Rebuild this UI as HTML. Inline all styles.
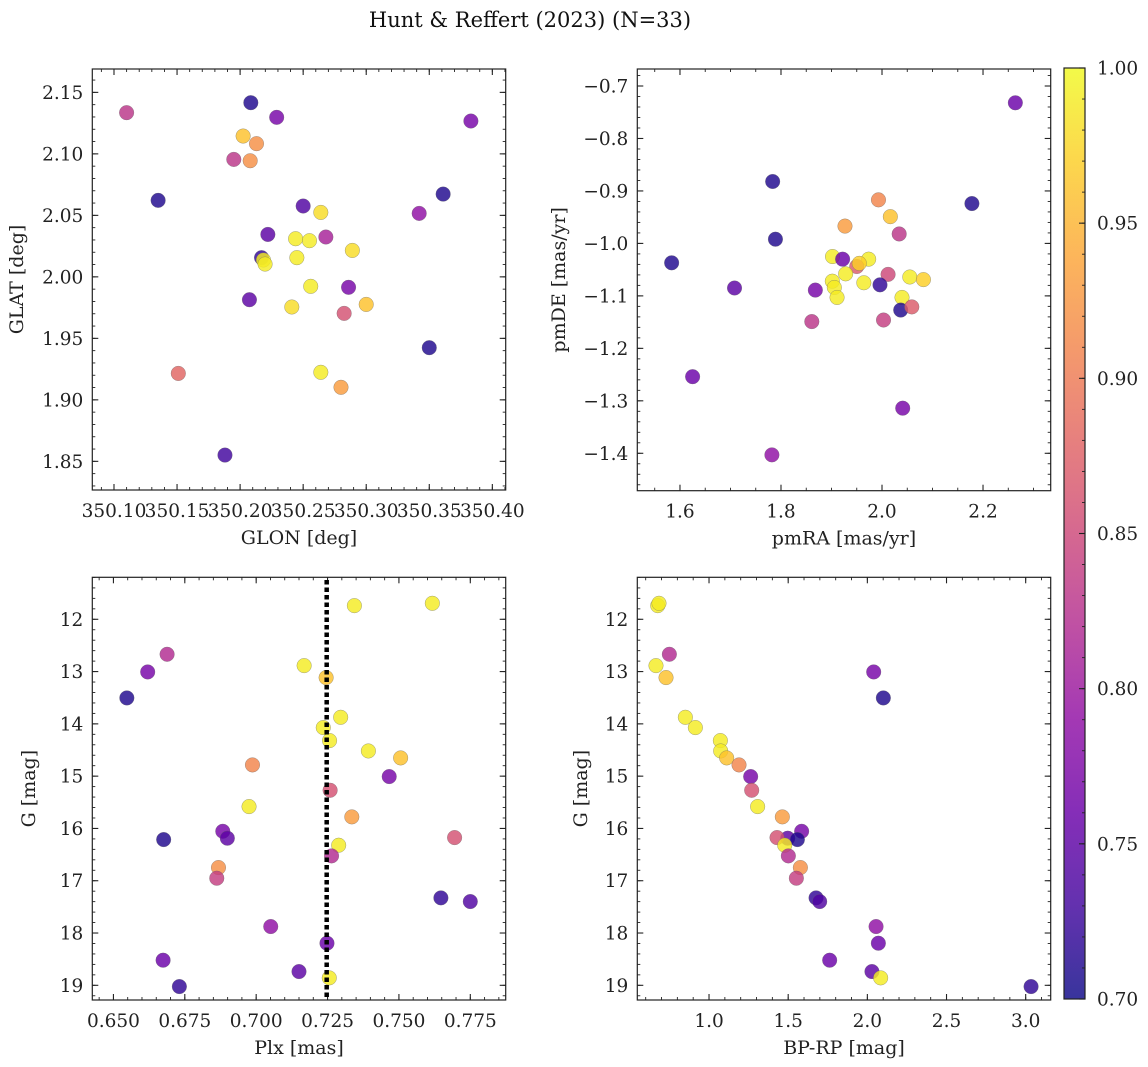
<!DOCTYPE html>
<html><head><meta charset="utf-8">
<style>
html,body{margin:0;padding:0;background:#fff;}
svg{display:block;font-family:"DejaVu Serif","Liberation Serif",serif;}
</style></head>
<body>
<svg id="fig" width="1148" height="1067" viewBox="0 0 1148 1067" xmlns="http://www.w3.org/2000/svg">
<text x="530" y="27" text-anchor="middle" font-size="21" fill="#111">Hunt &amp; Reffert (2023) (N=33)</text>
</svg>
<script>
// ---- Panel 1: positions ----
const glon=[350.110,350.2085,350.229,350.2024,350.213,350.195,350.208,350.135,350.250,350.264,350.222,350.244,350.255,350.268,350.289,350.217,350.2185,350.2198,350.245,350.256,350.286,350.2074,350.241,350.300,350.2825,350.342,350.361,350.383,350.350,350.151,350.264,350.280,350.188];
const glat=[2.1335,2.1416,2.1297,2.1145,2.1083,2.0955,2.0944,2.0622,2.0576,2.0524,2.0345,2.031,2.0294,2.0324,2.0215,2.0156,2.0137,2.0104,2.0156,1.9923,1.9915,1.9814,1.9755,1.9776,1.9703,2.0516,2.0673,2.1267,1.9424,1.9215,1.9224,1.9102,1.8551];
const probPos=[0.83,0.71,0.77,0.96,0.92,0.83,0.92,0.71,0.74,0.98,0.75,0.99,0.99,0.81,0.98,0.72,0.99,0.99,0.99,0.99,0.77,0.75,0.98,0.96,0.86,0.79,0.71,0.77,0.71,0.88,0.99,0.93,0.73];
// ---- Panel 2: proper motions ----
const pmra=[2.264,1.7835,1.789,1.5835,1.708,1.625,1.782,1.868,1.861,1.993,2.0165,1.9267,2.034,2.178,1.902,1.922,1.9736,1.950,1.955,1.928,2.012,1.9016,1.9056,1.911,1.964,1.996,2.055,2.082,2.0396,2.037,2.059,2.003,2.041];
const pmde=[-0.732,-0.882,-0.992,-1.037,-1.085,-1.254,-1.403,-1.089,-1.149,-0.917,-0.949,-0.967,-0.982,-0.924,-1.025,-1.030,-1.030,-1.044,-1.038,-1.058,-1.059,-1.072,-1.084,-1.103,-1.075,-1.079,-1.064,-1.069,-1.103,-1.127,-1.121,-1.146,-1.314];
const probPm=[0.76,0.71,0.71,0.71,0.75,0.76,0.79,0.77,0.83,0.91,0.96,0.93,0.83,0.71,0.99,0.76,0.99,0.87,0.97,0.99,0.85,0.99,0.99,0.99,0.99,0.72,0.99,0.97,0.99,0.71,0.87,0.84,0.77];
// ---- Panels 3/4: photometry (same stars) ----
const plx=[0.7344,0.7617,0.6688,0.6620,0.6547,0.7168,0.7245,0.7296,0.7235,0.7257,0.7393,0.7506,0.6987,0.7466,0.7259,0.6975,0.7335,0.6883,0.6899,0.6676,0.7695,0.7289,0.7264,0.6868,0.6862,0.7647,0.7750,0.7051,0.7248,0.6674,0.7150,0.7256,0.6731];
const gmag=[11.739,11.694,12.669,13.007,13.504,12.886,13.115,13.874,14.071,14.320,14.518,14.651,14.785,15.008,15.270,15.582,15.779,16.054,16.187,16.213,16.175,16.321,16.525,16.748,16.952,17.328,17.398,17.876,18.195,18.520,18.737,18.858,19.024];
const bprp=[0.676,0.684,0.7495,2.040,2.101,0.665,0.7284,0.8505,0.9137,1.0716,1.0737,1.1116,1.1895,1.263,1.2695,1.307,1.463,1.585,1.497,1.558,1.4295,1.478,1.501,1.577,1.5516,1.676,1.699,2.055,2.0695,1.762,2.029,2.084,3.034];
const probPh=[0.99,0.99,0.82,0.77,0.71,0.99,0.96,0.99,0.99,0.99,0.99,0.96,0.91,0.77,0.86,0.99,0.93,0.77,0.75,0.71,0.86,0.99,0.82,0.92,0.84,0.72,0.74,0.79,0.76,0.76,0.75,0.99,0.72];
const plxMean=[0.7247];
// ---- tick labels ----
const ticksGlon=[350.10,350.15,350.20,350.25,350.30,350.35,350.40];
const labelsGlon=["350.10","350.15","350.20","350.25","350.30","350.35","350.40"];
const ticksGlat=[1.85,1.90,1.95,2.00,2.05,2.10,2.15];
const labelsGlat=["1.85","1.90","1.95","2.00","2.05","2.10","2.15"];
const ticksPmra=[1.6,1.8,2.0,2.2];
const labelsPmra=["1.6","1.8","2.0","2.2"];
const ticksPmde=[-1.4,-1.3,-1.2,-1.1,-1.0,-0.9,-0.8,-0.7];
const labelsPmde=["\u22121.4","\u22121.3","\u22121.2","\u22121.1","\u22121.0","\u22120.9","\u22120.8","\u22120.7"];
const ticksPlx=[0.650,0.675,0.700,0.725,0.750,0.775];
const labelsPlx=["0.650","0.675","0.700","0.725","0.750","0.775"];
const ticksG=[12,13,14,15,16,17,18,19];
const labelsG=["12","13","14","15","16","17","18","19"];
const ticksCol=[1.0,1.5,2.0,2.5,3.0];
const labelsCol=["1.0","1.5","2.0","2.5","3.0"];
const ticksCbar=[0.70,0.75,0.80,0.85,0.90,0.95,1.00];
const labelsCbar=["0.70","0.75","0.80","0.85","0.90","0.95","1.00"];

const FS=18.5, LFS=19;
const NS="http://www.w3.org/2000/svg";
const svg=document.getElementById('fig');
function mk(tag,attrs,parent){const e=document.createElementNS(NS,tag);for(const k in attrs)e.setAttribute(k,attrs[k]);(parent||svg).appendChild(e);return e;}
const plasmaStops=[[13,8,135],[65,4,157],[106,0,168],[143,13,164],[177,42,144],[204,71,120],[225,100,98],[242,132,75],[252,166,54],[252,206,37],[240,249,33]];
function plasma(t){t=Math.max(0,Math.min(1,t));const f=t*10;const i=Math.min(9,Math.floor(f));const r=f-i;const a=plasmaStops[i],b=plasmaStops[i+1];
return 'rgb('+[0,1,2].map(k=>Math.round(a[k]+(b[k]-a[k])*r)).join(',')+')';}
function cval(p){return plasma((p-0.70)/0.30);}

function panel(cfg){
  const g=mk('g',{});
  
  
  const sx=v=>cfg.x0+(v-cfg.xmin)/(cfg.xmax-cfg.xmin)*(cfg.x1-cfg.x0);
  const sy=v=>cfg.y0+(v-cfg.ytop)/(cfg.ybot-cfg.ytop)*(cfg.y1-cfg.y0);
  const tg=mk('g',{stroke:'#222','stroke-width':0.9},g);
  
  
  const lo=Math.min(cfg.xmin,cfg.xmax),hi=Math.max(cfg.xmin,cfg.xmax);
  for(let v=Math.ceil(lo/cfg.xminor-1e-6)*cfg.xminor;v<=hi+1e-9;v+=cfg.xminor){const x=sx(v);
    mk('line',{x1:x,x2:x,y1:cfg.y1,y2:cfg.y1-3},tg);mk('line',{x1:x,x2:x,y1:cfg.y0,y2:cfg.y0+3},tg);}
  const ylo=Math.min(cfg.ytop,cfg.ybot),yhi=Math.max(cfg.ytop,cfg.ybot);
  for(let v=Math.ceil(ylo/cfg.yminor-1e-6)*cfg.yminor;v<=yhi+1e-9;v+=cfg.yminor){const y=sy(v);
    mk('line',{x1:cfg.x0,x2:cfg.x0+3,y1:y,y2:y},tg);mk('line',{x1:cfg.x1,x2:cfg.x1-3,y1:y,y2:y},tg);}
  cfg.xt.forEach((v,i)=>{const x=sx(v);
    mk('line',{x1:x,x2:x,y1:cfg.y1,y2:cfg.y1-6,'stroke-width':1.1},tg);mk('line',{x1:x,x2:x,y1:cfg.y0,y2:cfg.y0+6,'stroke-width':1.1},tg);
    const t=mk('text',{x:x,y:cfg.y1+27,'text-anchor':'middle','font-size':FS,fill:'#222'},g);t.textContent=cfg.xl[i];
    
    });
  cfg.yt.forEach((v,i)=>{const y=sy(v);
    mk('line',{x1:cfg.x0,x2:cfg.x0+6,y1:y,y2:y,'stroke-width':1.1},tg);mk('line',{x1:cfg.x1,x2:cfg.x1-6,y1:y,y2:y,'stroke-width':1.1},tg);
    const t=mk('text',{x:cfg.x0-9,y:y+6.5,'text-anchor':'end','font-size':FS,fill:'#222'},g);t.textContent=cfg.yl[i];
    
    });
  const pg=mk('g',{},g);
  
  
  cfg.xs.forEach((v,i)=>{
    const c=mk('circle',{cx:sx(v),cy:sy(cfg.ys[i]),r:7.3,fill:cval(cfg.ps[i]),'fill-opacity':0.82,stroke:'#666','stroke-opacity':0.6,'stroke-width':0.5},pg);
    
    
  });
  if(cfg.top)cfg.top(g,sx,sy);
  const fr=mk('rect',{x:cfg.x0,y:cfg.y0,width:cfg.x1-cfg.x0,height:cfg.y1-cfg.y0,fill:'none',stroke:'#222','stroke-width':1.2},g);
  
  
  const xl=mk('text',{x:(cfg.x0+cfg.x1)/2,y:cfg.y1+54,'text-anchor':'middle','font-size':LFS,fill:'#222'},g);xl.textContent=cfg.xlabel;
  
  
  const yx=cfg.ylabX,yc=(cfg.y0+cfg.y1)/2;
  const yl=mk('text',{x:yx,y:yc,'text-anchor':'middle','font-size':LFS,fill:'#222',transform:'rotate(-90 '+yx+' '+yc+')','dominant-baseline':'middle'},g);yl.textContent=cfg.ylabel;
  
  
}

panel({name:'position-panel',x0:92.3,x1:505.7,y0:69,y1:490,xmin:350.0828,xmax:350.4106,ytop:2.169,ybot:1.8267,
  xt:ticksGlon,xl:labelsGlon,yt:ticksGlat,yl:labelsGlat,xminor:0.01,yminor:0.01,xs:glon,ys:glat,ps:probPos,xlabel:'GLON [deg]',ylabel:'GLAT [deg]',ylabX:18});
panel({name:'proper-motion-panel',x0:637.3,x1:1050.7,y0:69,y1:490.7,xmin:1.5155,xmax:2.334,ytop:-0.6676,ybot:-1.4713,
  xt:ticksPmra,xl:labelsPmra,yt:ticksPmde,yl:labelsPmde,xminor:0.05,yminor:0.02,xs:pmra,ys:pmde,ps:probPm,xlabel:'pmRA [mas/yr]',ylabel:'pmDE [mas/yr]',ylabX:560});
panel({name:'parallax-panel',x0:92.3,x1:505.7,y0:577.3,y1:1000,xmin:0.6426,xmax:0.7874,ytop:11.197,ybot:19.281,
  xt:ticksPlx,xl:labelsPlx,yt:ticksG,yl:labelsG,xminor:0.005,yminor:0.2,xs:plx,ys:gmag,ps:probPh,xlabel:'Plx [mas]',ylabel:'G [mag]',ylabX:30,
  top:(g,sx,sy)=>{plxMean.forEach(m=>{const l=mk('line',{x1:sx(m),x2:sx(m),y1:580,y2:1000,stroke:'#000','stroke-width':4.5,'stroke-dasharray':'4.5 3'},g);
    
    });}});
panel({name:'cmd-panel',x0:637.3,x1:1050.7,y0:577.3,y1:1000,xmin:0.547,xmax:3.158,ytop:11.197,ybot:19.281,
  xt:ticksCol,xl:labelsCol,yt:ticksG,yl:labelsG,xminor:0.1,yminor:0.2,xs:bprp,ys:gmag,ps:probPh,xlabel:'BP-RP [mag]',ylabel:'G [mag]',ylabX:582});

(function(){
  const cx0=1064,cx1=1085,cy0=68,cy1=999;
  const cb=mk('g',{});
  
  
  const defs=mk('defs',{},cb);
  const lg=mk('linearGradient',{id:'pl',x1:0,y1:1,x2:0,y2:0},defs);
  for(let i=0;i<=20;i++)mk('stop',{offset:(i/20),'stop-color':plasma(i/20),'stop-opacity':0.82},lg);
  mk('rect',{x:cx0,y:cy0,width:cx1-cx0,height:cy1-cy0,fill:'url(#pl)'},cb);
  const sy=v=>cy1-(v-0.70)/0.30*(cy1-cy0);
  for(let v=0.70;v<=1.0001;v+=0.01){mk('line',{x1:cx1,x2:cx1-3,y1:sy(v),y2:sy(v),stroke:'#222','stroke-width':0.9},cb);}
  ticksCbar.forEach((v,i)=>{mk('line',{x1:cx1,x2:cx1-6,y1:sy(v),y2:sy(v),stroke:'#222','stroke-width':1.1},cb);
    const t=mk('text',{x:cx1+12,y:sy(v)+6.5,'font-size':FS,fill:'#222'},cb);t.textContent=labelsCbar[i];
    
    });
  mk('rect',{x:cx0,y:cy0,width:cx1-cx0,height:cy1-cy0,fill:'none',stroke:'#222','stroke-width':1.2},cb);
})();
</script>
</body></html>
